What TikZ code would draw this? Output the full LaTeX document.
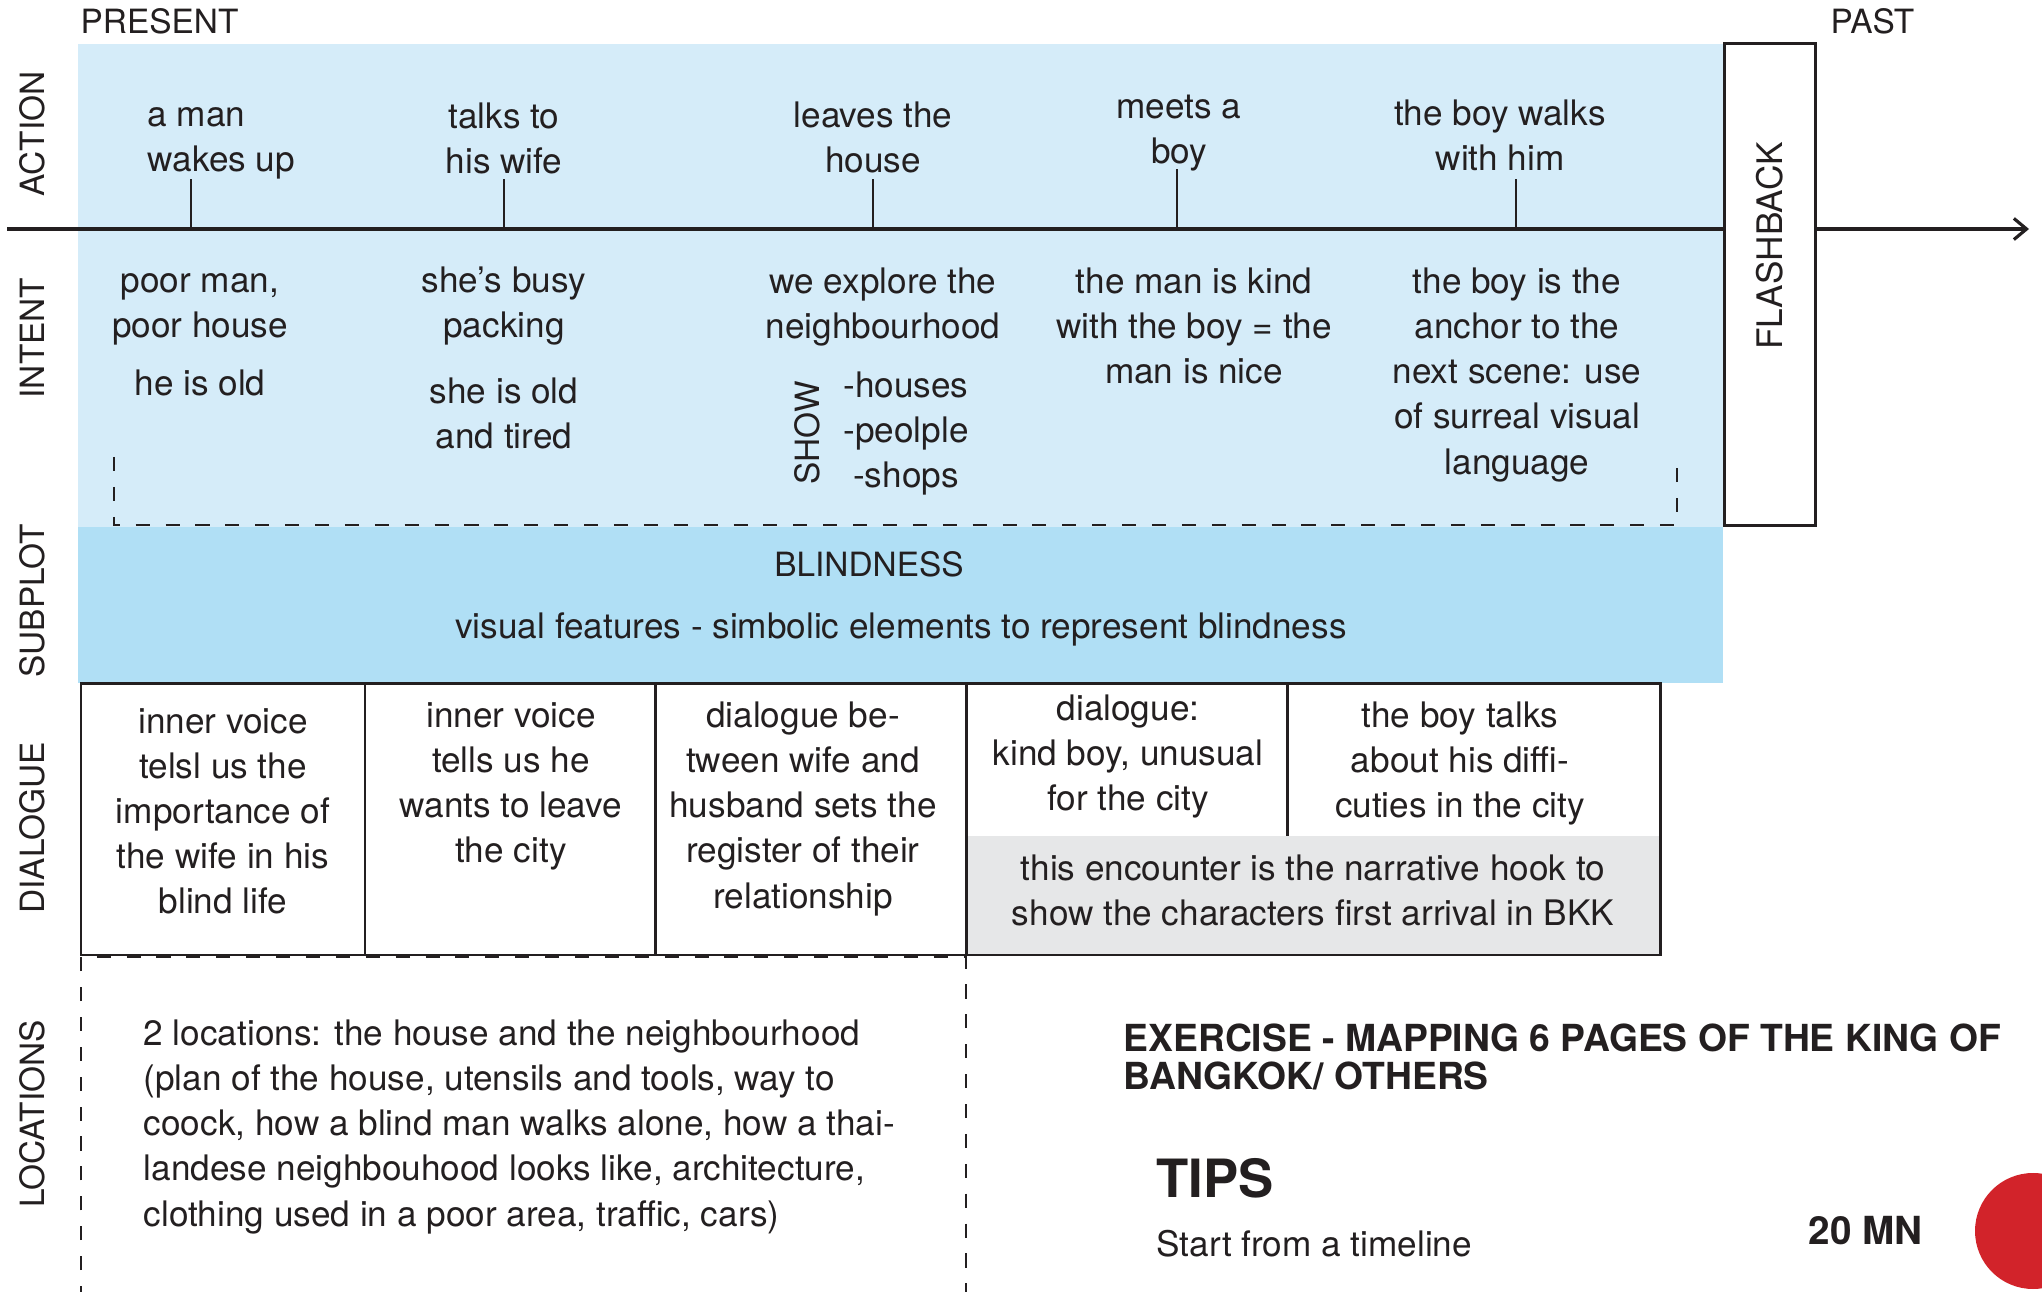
\documentclass[tikz,border=0pt]{standalone}
\usepackage{fontspec}
\setmainfont{TeX Gyre Heros}
\usetikzlibrary{arrows.meta}
\definecolor{ink}{HTML}{231F20}
\definecolor{skylight}{HTML}{D5ECF9}
\definecolor{skydark}{HTML}{B0DFF5}
\definecolor{hookgray}{HTML}{E6E7E8}
\definecolor{dotred}{HTML}{D2232A}

\begin{document}
\begin{tikzpicture}[x=0.01cm, y=-0.01cm,
    txt/.style={align=center, text=ink, inner sep=0pt, font=\fontsize{10}{12.8}\selectfont},
    lab/.style={text=ink, inner sep=0pt, font=\fontsize{9.5}{11}\selectfont},
    side/.style={lab, rotate=90},
    tick/.style={ink, line width=0.7pt},
    frame/.style={ink, line width=0.85pt},
    dashframe/.style={ink, line width=0.8pt, dash pattern=on 4pt off 4.5pt},
    bold/.style={text=ink, inner sep=0pt, anchor=west, align=left}]
\useasboundingbox (0,0) rectangle (2042,1292);
\clip (0,0) rectangle (2042,1292);

% bands
\fill[skylight] (78,44) rectangle (1724,527);
\fill[skydark] (78,527) rectangle (1723,683);
\fill[hookgray] (966,836) rectangle (1660,955);

% time line
\coordinate (tl0) at (7,229);
\coordinate (tl1) at (2029,229);
\draw[ink, line width=0.9pt, -{Straight Barb[length=3.6pt,width=6pt]}] (tl0) -- (tl1);

% flashback
\draw[frame, fill=white] (1724,44) rectangle (1815,526);
\node[side, font=\fontsize{10}{12}\selectfont] (flash) at (1770,246) {FLASHBACK};

% ticks
\coordinate (tk1) at (191,229); \coordinate (tt1) at (191,179);
\draw[tick] (tk1) -- (tt1);
\coordinate (tk2) at (504,229); \coordinate (tt2) at (504,179);
\draw[tick] (tk2) -- (tt2);
\coordinate (tk3) at (873,229); \coordinate (tt3) at (873,179);
\draw[tick] (tk3) -- (tt3);
\coordinate (tk4) at (1177,229); \coordinate (tt4) at (1177,169);
\draw[tick] (tk4) -- (tt4);
\coordinate (tk5) at (1516,229); \coordinate (tt5) at (1516,179);
\draw[tick] (tk5) -- (tt5);

% row labels
\node[lab, anchor=west] (present) at (80,21) {PRESENT};
\node[lab, anchor=west] (past) at (1830,21) {PAST};
\node[side] (action) at (32,134) {ACTION};
\node[side] (intent) at (32,338) {INTENT};
\node[side] (subplot) at (32,601) {SUBPLOT};
\node[side] (dialogue) at (32,828) {DIALOGUE};
\node[side] (locations) at (32,1114) {LOCATIONS};

% action
\node[txt, align=left, anchor=west] (ac1) at (147,143) {a man\\wakes up};
\node[txt] (ac2) at (504,138) {talks to\\his wife};
\node[txt] (ac3) at (873,137) {leaves the\\house};
\node[txt] (ac4) at (1179,133) {meets a\\boy};
\node[txt] (ac5) at (1500,135) {the boy walks\\with him};

% intent
\node[txt] (in1) at (200,309) {poor man,\\poor house};
\node[txt] (in1b) at (200,383) {he is old};
\node[txt] (in2) at (504,306) {she’s busy\\packing};
\node[txt] (in2b) at (504,413) {she is old\\and tired};
\node[txt] (in3) at (883,307) {we explore the\\neighbourhood};
\node[side] (show) at (807,433) {SHOW};
\node[txt] (in3b) at (906,434) {-houses\\-peolple\\-shops};
\node[txt] (in4) at (1194,326) {the man is kind\\with the boy = the\\man is nice};
\node[txt] (in5) at (1517,375) {the boy is the\\anchor to the\\next scene: use\\of surreal visual\\language};

\draw[dashframe] (114,457) -- (114,525) -- (1677,525) -- (1677,457);

% subplot
\node[lab] (blind) at (869,564) {BLINDNESS};
\node[txt] (visual) at (901,629) {visual features - simbolic elements to represent blindness};

% dialogue
\draw[frame] (81,684) rectangle (1660,955);
\draw[frame] (365,684) -- (365,955);
\draw[frame] (655,684) -- (655,955);
\draw[frame] (966,684) -- (966,955);
\draw[frame] (1287,684) -- (1287,836);

\node[txt] (dl1) at (223,811) {inner voice\\telsl us the\\importance of\\the wife in his\\blind life};
\node[txt] (dl2) at (511,786) {inner voice\\tells us he\\wants to leave\\the city};
\node[txt] (dl3) at (803,809) {dialogue be-\\tween wife and\\husband sets the\\register of their\\relationship};
\node[txt] (dl4) at (1128,757) {dialogue:\\kind boy, unusual\\for the city};
\node[txt] (dl5) at (1460,764) {the boy talks\\about his diffi-\\cuties in the city};
\node[txt] (hook) at (1313,890) {this encounter is the narrative hook to\\show the characters first arrival in BKK};

% locations
\draw[dashframe] (81,1300) -- (81,957) -- (966,957) -- (966,1300);
\node[txt, align=left, anchor=west] (loc) at (143,1127)
{2 locations: the house and the neighbourhood\\(plan of the house, utensils and tools, way to\\coock, how a blind man walks alone, how a thai-\\landese neighbouhood looks like, architecture,\\clothing used in a poor area, traffic, cars)};

% exercise
\node[bold, font=\bfseries\fontsize{10.6}{10.8}\selectfont] (title) at (1123,1057)
{EXERCISE - MAPPING 6 PAGES OF THE KING OF\\BANGKOK/ OTHERS};
\node[bold, font=\bfseries\fontsize{15}{18}\selectfont] (tips) at (1156,1178) {TIPS};
\node[txt, anchor=west] (start) at (1156,1244) {Start from a timeline};
\node[bold, font=\bfseries\fontsize{11}{13}\selectfont] (mn) at (1808,1231) {20 MN};
\fill[dotred] (2033,1231) circle (58);

\end{tikzpicture}
\end{document}
